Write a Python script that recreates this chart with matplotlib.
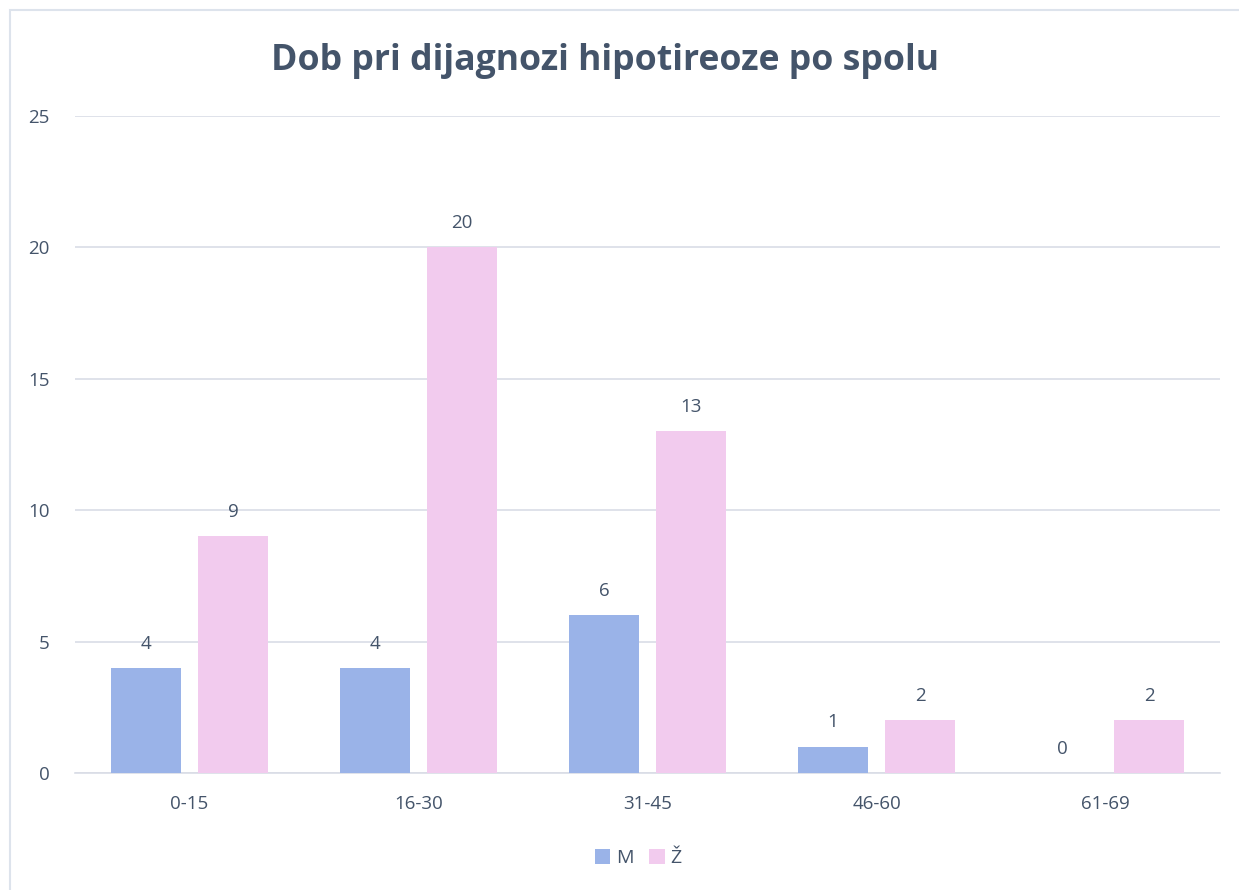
import numpy as np
import matplotlib.pyplot as plt
from matplotlib.patches import Rectangle

plt.rcParams["font.family"] = ["Open Sans", "DejaVu Sans"]

# data
categories = ["0-15", "16-30", "31-45", "46-60", "61-69"]
m_values = [4, 4, 6, 1, 0]
z_values = [9, 20, 13, 2, 2]
series_names = ["M", "Ž"]

text_col = "#44546a"
m_col = "#9ab3e8"
z_col = "#f2cbee"
grid_col = "#d9dde6"

fig = plt.figure(figsize=(12.39, 8.9), dpi=100)
ax = fig.add_axes([0.0605, 0.1315, 0.9242, 0.7382])

# chart frame
fig.patches.append(Rectangle((10 / 1239, -0.1), 1.2, 1 - 10 / 890 + 0.1,
                             transform=fig.transFigure, fill=False,
                             edgecolor="#dde3ec", linewidth=1.5))

x = np.arange(len(categories))
w = 0.306
off = 0.19
b1 = ax.bar(x - off, m_values, w, color=m_col, label=series_names[0], zorder=3)
b2 = ax.bar(x + off, z_values, w, color=z_col, label=series_names[1], zorder=3)

for bars in (b1, b2):
    for r in bars:
        ax.annotate(str(int(r.get_height())), (r.get_x() + r.get_width() / 2, r.get_height()),
                    xytext=(0, 11), textcoords="offset points", ha="center", va="bottom",
                    fontsize=13.5, color=text_col)

ax.set_xlim(-0.5, len(categories) - 0.5)
ax.set_ylim(0, 25)
ax.set_yticks([0, 5, 10, 15, 20, 25])
ax.set_xticks(x)
ax.set_xticklabels(categories)
ax.tick_params(axis="both", length=0, labelsize=13.5, labelcolor=text_col)
ax.tick_params(axis="x", pad=16)
ax.tick_params(axis="y", pad=18)
ax.grid(axis="y", color=grid_col, linewidth=1.2, zorder=0)
for s in ["top", "right", "left"]:
    ax.spines[s].set_visible(False)
ax.spines["bottom"].set_color(grid_col)
ax.spines["bottom"].set_linewidth(1.2)

fig.text(0.488, 0.931, "Dob pri dijagnozi hipotireoze po spolu", ha="center", va="center",
         fontsize=25.7, fontweight="bold", color=text_col)

leg = fig.legend(loc="center", bbox_to_anchor=(0.515, 0.036), ncol=2, frameon=False,
                 fontsize=14, handlelength=0.8, handleheight=0.8, handletextpad=0.3,
                 columnspacing=0.8)
for t in leg.get_texts():
    t.set_color(text_col)

fig.savefig("out.png", dpi=100)
